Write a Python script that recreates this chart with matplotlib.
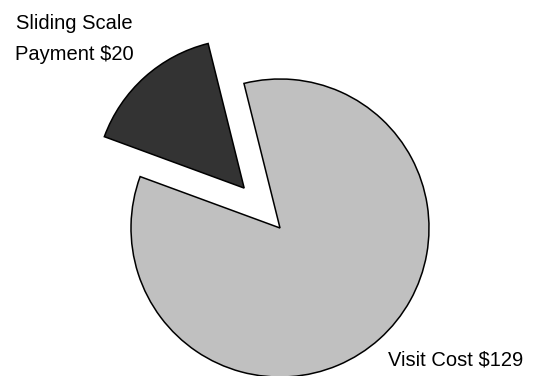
import matplotlib
matplotlib.use("Agg")
import matplotlib.pyplot as plt

# Visit cost split: sliding-scale payment vs. remainder of the $129 visit
visit_cost = 129
payment = 20
values = [payment, visit_cost - payment]
colors = ["#333333", "#c0c0c0"]
explode = [0.36, 0.0]
label_payment = "Sliding Scale\nPayment $20"
label_visit = "Visit Cost $129"

W, H = 538, 376
CX, CY, R = 280, 148, 149   # pie centre (px from bottom-left) and radius in px

plt.rcParams["font.family"] = ["Liberation Sans", "DejaVu Sans"]

fig = plt.figure(figsize=(W / 100, H / 100), dpi=100)
ax = fig.add_axes([0, 0, 1, 1])
ax.pie(values, colors=colors, explode=explode, startangle=104, counterclock=True,
       radius=1.0, wedgeprops=dict(edgecolor="black", linewidth=1.1))
ax.set_xlim(-CX / R, (W - CX) / R)
ax.set_ylim(-CY / R, (H - CY) / R)
ax.set_aspect("auto")
ax.axis("off")

fig.text(74 / W, 1 - 39 / H, label_payment, ha="center", va="center",
         fontsize=14.5, linespacing=1.75)
fig.text(456 / W, 1 - 360 / H, label_visit, ha="center", va="center", fontsize=14.5)

fig.savefig("out.png", dpi=100)
